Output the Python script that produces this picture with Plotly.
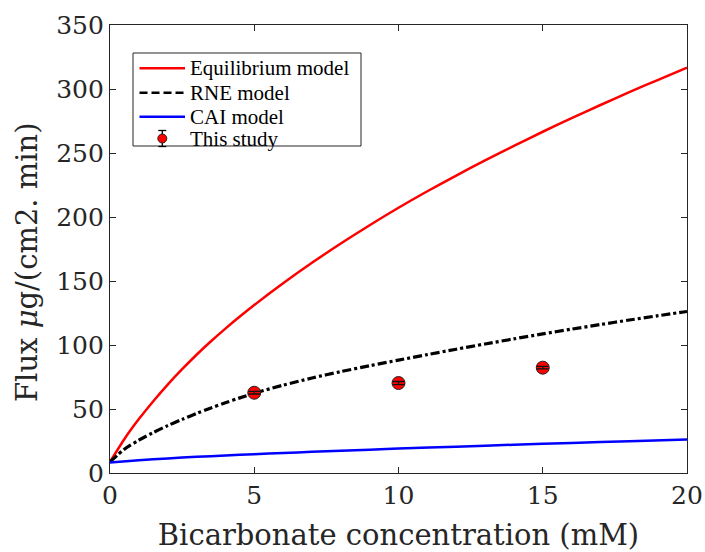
import plotly.graph_objects as go

# Model curves: bicarbonate concentration (mM) vs flux
eq_x = [0, 0.5, 1, 1.5, 2, 2.5, 3, 3.5, 4, 4.5, 5, 6, 7, 8, 9, 10,
        11, 12, 13, 14, 15, 16, 17, 18, 19, 20]
eq_y = [8.6, 26.6, 42.1, 56.1, 69.1, 81.1, 92.4, 102.9, 112.8, 122.2, 131.2, 148.2,
        164.2, 179.3, 193.6, 207.2, 220.1, 232.4, 244.2, 255.6, 266.6, 277.2,
        287.5, 297.5, 307.2, 316.7]

rne_x = [0, 0.5, 1, 1.5, 2, 2.5, 3, 3.5, 4, 4.5, 5, 6, 7, 8, 9, 10,
         11, 12, 13, 14, 15, 16, 17, 18, 19, 20]
rne_y = [8.6, 18.6, 25.6, 31.6, 37.0, 41.9, 46.5, 50.8, 54.9, 58.7, 62.3, 68.6,
         74.2, 79.2, 83.8, 88.2, 92.5, 96.7, 100.8, 104.8, 108.7, 112.4,
         116.0, 119.5, 122.9, 126.2]

cai_x = [0, 1, 2, 3, 4, 5, 6, 7, 8, 9, 10, 12, 14, 16, 18, 20]
cai_y = [8.2, 10.0, 11.4, 12.6, 13.7, 14.7, 15.65, 16.55, 17.4, 18.25, 19.05,
         20.6, 22.1, 23.5, 24.85, 26.15]

# Measured flux (this study)
exp_x = [5, 10, 15]
exp_y = [62.7, 70.3, 82.3]
exp_err = [1.0, 1.2, 1.0]

x_ticks = [0, 5, 10, 15, 20]
y_ticks = [0, 50, 100, 150, 200, 250, 300, 350]

legend_labels = ["Equilibrium model", "RNE model", "CAI model", "This study"]
x_title = "Bicarbonate concentration (mM)"
y_title = "Flux <i>μ</i>g/(cm2. min)"

W, H = 705, 552
ML, MR, MT, MB = 110, 18, 25, 79
PW, PH = W - ML - MR, H - MT - MB

AX = "#262626"
AXFONT = "DejaVu Serif"
LEGFONT = "Liberation Serif"
RNE_DASH = "9px,3px,3px,3px"


def px_x(p):
    return (p - ML) / PW


def px_y(p):
    return (H - MB - p) / PH


fig = go.Figure()
fig.add_trace(go.Scatter(x=eq_x, y=eq_y, mode="lines", name=legend_labels[0],
                         line=dict(color="#ff0000", width=2.5, shape="spline", smoothing=0.8)))
fig.add_trace(go.Scatter(x=rne_x, y=rne_y, mode="lines", name=legend_labels[1],
                         line=dict(color="black", width=3.2, dash=RNE_DASH,
                                   shape="spline", smoothing=0.8)))
fig.add_trace(go.Scatter(x=cai_x, y=cai_y, mode="lines", name=legend_labels[2],
                         line=dict(color="#0000ff", width=2.5, shape="spline", smoothing=0.8)))
fig.add_trace(go.Scatter(x=exp_x, y=exp_y, mode="markers", name=legend_labels[3],
                         marker=dict(color="#ff0000", size=13,
                                     line=dict(color="#222222", width=1))))
# error bars drawn over the markers
fig.add_trace(go.Scatter(x=exp_x, y=exp_y, mode="markers", showlegend=False,
                         marker=dict(color="rgba(0,0,0,0)", size=1),
                         error_y=dict(type="data", array=exp_err, visible=True,
                                      color="#111111", thickness=1.3, width=6),
                         hoverinfo="skip"))

# Legend box with samples
shapes = [dict(type="rect", xref="paper", yref="paper",
               x0=px_x(133), x1=px_x(361), y0=px_y(146), y1=px_y(53),
               line=dict(color=AX, width=1), fillcolor="white", layer="above")]
rows = [68.3, 92.7, 116.7, 138.5]
sample_styles = [dict(color="#ff0000", width=2.5),
                 dict(color="black", width=2.5, dash="8px,4px"),
                 dict(color="#0000ff", width=2.5)]
for r, st in zip(rows[:3], sample_styles):
    shapes.append(dict(type="line", xref="paper", yref="paper",
                       x0=px_x(139.5), x1=px_x(185), y0=px_y(r), y1=px_y(r),
                       line=st, layer="above"))
mx, my = px_x(162.3), px_y(rows[3])
shapes.append(dict(type="line", xref="paper", yref="paper", x0=mx, x1=mx,
                   y0=px_y(rows[3] + 8), y1=px_y(rows[3] - 8),
                   line=dict(color="black", width=1.3), layer="above"))
for d in (-8, 8):
    shapes.append(dict(type="line", xref="paper", yref="paper",
                       x0=px_x(158.3), x1=px_x(166.3),
                       y0=px_y(rows[3] + d), y1=px_y(rows[3] + d),
                       line=dict(color="black", width=1.3), layer="above"))
shapes.append(dict(type="circle", xref="paper", yref="paper",
                   xsizemode="pixel", ysizemode="pixel", xanchor=mx, yanchor=my,
                   x0=-4.5, x1=4.5, y0=-4.5, y1=4.5,
                   fillcolor="#ff0000", line=dict(color="#222222", width=1),
                   layer="above"))

annotations = []
for r, lab in zip(rows, legend_labels):
    annotations.append(dict(text=lab, xref="paper", yref="paper",
                            x=px_x(188), y=px_y(r), xanchor="left", yanchor="middle",
                            showarrow=False,
                            font=dict(family=LEGFONT, size=21, color="black")))
# y-axis title, set a little below the plot's mid-height
annotations.append(dict(text=y_title, xref="paper", yref="paper",
                        x=px_x(27), y=px_y(262), xanchor="center", yanchor="middle",
                        textangle=-90, showarrow=False,
                        font=dict(family=AXFONT, size=29, color=AX)))

fig.update_layout(
    width=W, height=H,
    margin=dict(l=ML, r=MR, t=MT, b=MB),
    paper_bgcolor="white", plot_bgcolor="white",
    showlegend=False,
    shapes=shapes, annotations=annotations,
    font=dict(family=AXFONT, color=AX),
)
fig.update_xaxes(range=[0, 20], tickvals=x_ticks, ticks="inside", ticklen=6,
                 tickcolor=AX, showline=True, linecolor=AX, linewidth=1.2,
                 mirror="ticks", showgrid=False, zeroline=False, automargin=False,
                 tickfont=dict(family=AXFONT, size=25, color=AX),
                 title=dict(text=x_title,
                            font=dict(family=AXFONT, size=29, color=AX), standoff=16))
fig.update_yaxes(range=[0, 350], tickvals=y_ticks, ticks="inside", ticklen=6,
                 tickcolor=AX, showline=True, linecolor=AX, linewidth=1.2,
                 mirror="ticks", showgrid=False, zeroline=False, automargin=False,
                 tickfont=dict(family=AXFONT, size=25, color=AX))

fig.write_html("out.html")
